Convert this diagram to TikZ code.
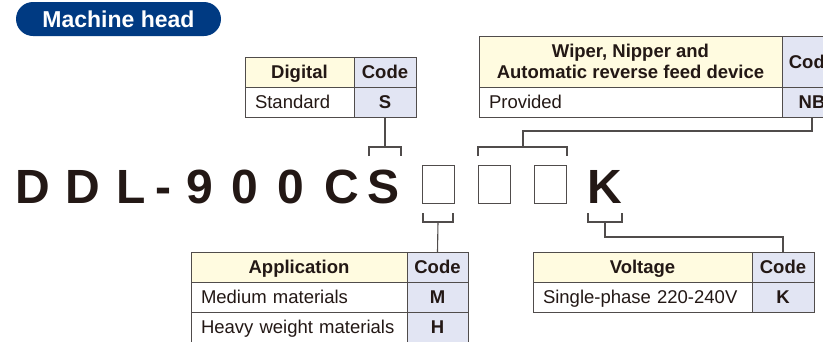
\documentclass[tikz,border=0pt]{standalone}
\usepackage{fontspec}
\setmainfont{Liberation Sans}
\usepackage{xcolor}
\usetikzlibrary{positioning}

\definecolor{navy}{RGB}{0,58,130}
\definecolor{headbg}{RGB}{255,251,224}
\definecolor{codebg}{RGB}{226,229,243}
\definecolor{rule}{RGB}{80,76,75}
\definecolor{ink}{RGB}{35,24,21}

\begin{document}
\begin{tikzpicture}[
    x=1pt, y=-1pt,
    cell/.style={draw=rule, line width=0.9pt, outer sep=0pt, inner ysep=0pt, minimum height=30pt, text=ink, font=\fontsize{18.5}{21}\selectfont},
    fixed/.style={text height=13pt, text depth=-2.5pt},
    head/.style={cell, fixed, fill=headbg, font=\fontsize{18.5}{21}\selectfont\bfseries, minimum width=#1},
    codecell/.style={cell, fixed, fill=codebg, font=\fontsize{18.5}{21}\selectfont\bfseries, minimum width=#1},
    entry/.style={cell, fixed, fill=white, text width=#1, align=left, inner xsep=10pt},
    slot/.style={draw=rule, line width=0.9pt, minimum width=32pt, minimum height=38pt, outer sep=0pt},
    big/.style={font=\fontsize{48}{48}\selectfont\bfseries, text=ink, inner sep=0pt, anchor=base},
    banner/.style={fill=navy, rounded corners=17pt, minimum width=205pt, minimum height=34pt, text=white, font=\fontsize{23}{23}\selectfont\bfseries},
    link/.style={draw=rule, line width=1.1pt}
]
\useasboundingbox (0,0) rectangle (823,341);

% Title
\node[banner] (title) at (118.5,19) {Machine head};

% Model number
\foreach \ch/\cx [count=\i] in {D/33, D/83, L/131, -/163, 9/200, 0/245, 0/291, C/342, S/384}
  \node[big] (ch\i) at (\cx,203) {\ch};
\node[slot] (slot1) at (438,184) {};
\node[slot, right=24pt of slot1] (slot2) {};
\node[slot, right=24pt of slot2] (slot3) {};
\node[big] (chK) at (605,203) {K};

% Digital table
\node[head=109pt, anchor=north west] (dighead) at (245,57) {Digital};
\node[codecell=62pt, right=0pt of dighead] (digcodehead) {Code};
\node[entry=89pt, below=0pt of dighead] (digrow) {Standard};
\node[codecell=62pt, below=0pt of digcodehead] (digS) {S};

% Wiper table
\node[cell, fill=headbg, font=\fontsize{18.5}{21}\selectfont\bfseries, align=center, minimum width=303pt, minimum height=51pt, anchor=north west] (wiphead) at (479,36) {Wiper, Nipper and\\Automatic reverse feed device};
\node[codecell=60pt, minimum height=51pt, right=0pt of wiphead] (wipcodehead) {Code};
\node[entry=283pt, below=0pt of wiphead] (wiprow) {Provided};
\node[codecell=60pt, below=0pt of wipcodehead] (wipNB) {NB};

% Application table
\node[head=216pt, anchor=north west] (apphead) at (191,252) {Application};
\node[codecell=61pt, right=0pt of apphead] (appcodehead) {Code};
\node[entry=196pt, below=0pt of apphead] (appmed) {Medium materials};
\node[codecell=61pt, below=0pt of appcodehead] (appM) {M};
\node[entry=196pt, below=0pt of appmed] (appheavy) {Heavy weight materials};
\node[codecell=61pt, below=0pt of appM] (appH) {H};

% Voltage table
\node[head=219pt, anchor=north west] (volthead) at (533,252) {Voltage};
\node[codecell=62pt, right=0pt of volthead] (voltcodehead) {Code};
\node[entry=199pt, below=0pt of volthead] (voltrow) {Single-phase 220-240V};
\node[codecell=62pt, below=0pt of voltcodehead] (voltK) {K};

% Brackets
\draw[link] (369,156) |- (401,147) -- (401,156);
\draw[link] (478,156) |- (567,147) -- (567,156);
\draw[link] (423,213) |- (453,222) -- (453,213);
\draw[link] (588,213) |- (622,222) -- (622,213);
\coordinate (sjoin) at (385,147);
\coordinate (optjoin) at (523,147);
\coordinate (appjoin) at (438,222);
\coordinate (kjoin) at (605,222);

% Connections
\draw[link] (digS.south) -- (sjoin);
\draw[link] (wipNB.south) -- ++(0,14) -| (optjoin);
\draw[link] (appcodehead.north) -- (appjoin);
\draw[link] (voltcodehead.north) -- ++(0,-15) -| (kjoin);

\end{tikzpicture}
\end{document}
